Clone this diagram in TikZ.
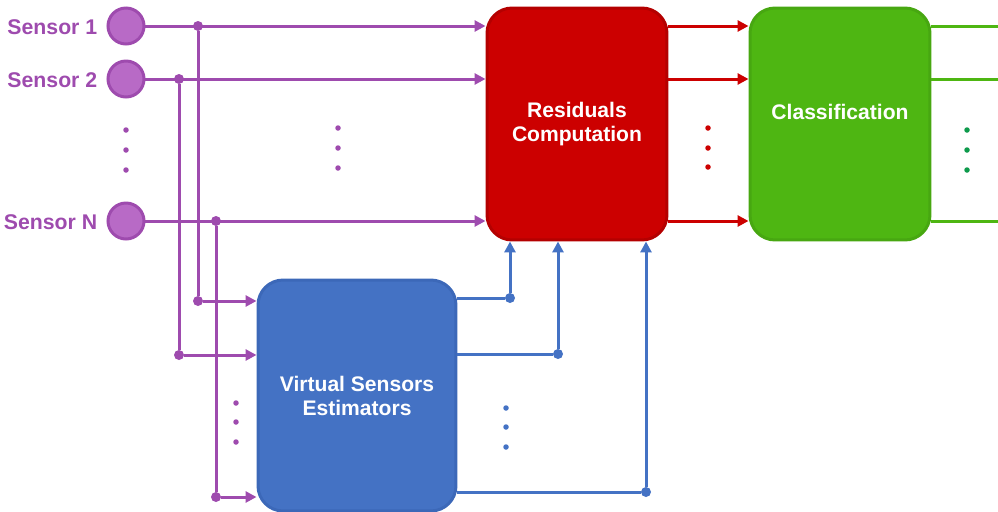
\documentclass[tikz,border=0pt]{standalone}
\usepackage{fontspec}
\setmainfont{Liberation Sans}
\usetikzlibrary{positioning,arrows.meta}

\definecolor{sensorline}{HTML}{9E4BAE}
\definecolor{sensorfill}{HTML}{B86AC6}
\definecolor{resfill}{HTML}{CC0000}
\definecolor{resline}{HTML}{B40000}
\definecolor{clsfill}{HTML}{4EB612}
\definecolor{clsline}{HTML}{47A711}
\definecolor{clsdot}{HTML}{0E9A4C}
\definecolor{vsefill}{HTML}{4472C4}
\definecolor{vseline}{HTML}{3C68B8}

\begin{document}
\begin{tikzpicture}[x=0.02cm, y=-0.02cm, line width=0.06cm,
    sensor/.style={draw=sensorline, fill=sensorfill, circle, minimum size=0.72cm, inner sep=0pt},
    sensorlbl/.style={text=sensorline, inner sep=1pt, font=\bfseries\fontsize{12.1}{13.7}\selectfont},
    block/.style={draw, rounded corners=0.5cm, text=white, align=center, font=\bfseries\fontsize{12}{13.7}\selectfont},
    junct/.style={circle, fill, inner sep=0pt, outer sep=0pt, minimum size=0.2cm},
    ellip/.style={circle, fill, inner sep=0pt, minimum size=0.11cm},
    arr/.style={-{Triangle[length=0.22cm, width=0.22cm]}}]
  \useasboundingbox (0,0) rectangle (998,511);

  % sensors
  \node (s1) [sensor] at (126,26) {};
  \node (s2) [sensor] at (126,79) {};
  \node (sN) [sensor] at (126,221) {};
  \node (s1lbl) [sensorlbl, left=0.12cm of s1, yshift=-0.03cm] {Sensor 1};
  \node (s2lbl) [sensorlbl, left=0.12cm of s2, yshift=-0.03cm] {Sensor 2};
  \node (sNlbl) [sensorlbl, left=0.12cm of sN, yshift=-0.03cm] {Sensor N};

  % blocks
  \node (res) [block, draw=resline, fill=resfill, minimum width=3.6cm, minimum height=4.64cm] at (577,124) {Residuals\\Computation};
  \node (cls) [block, draw=clsline, fill=clsfill, minimum width=3.6cm, minimum height=4.64cm] at (840,124) {Classification\\~};
  \node (vse) [block, draw=vseline, fill=vsefill, minimum width=3.96cm, minimum height=4.62cm] at (357,395.5) {Virtual Sensors\\Estimators};

  % junctions
  \node (j1) [junct, sensorline] at (198,26) {};
  \node (j2) [junct, sensorline] at (179,79) {};
  \node (jN) [junct, sensorline] at (216,221) {};
  \node (k1) [junct, sensorline] at (198,301) {};
  \node (k2) [junct, sensorline] at (179,355) {};
  \node (kN) [junct, sensorline] at (216,497) {};
  \node (b1) [junct, vsefill] at (510,298) {};
  \node (b2) [junct, vsefill] at (558,354) {};
  \node (b3) [junct, vsefill] at (646,492) {};
  \coordinate (out1) at (998,26);
  \coordinate (out2) at (998,79);
  \coordinate (outN) at (998,221);

  % sensor lines
  \draw [arr, sensorline] (s1) -- (s1 -| res.west);
  \draw [arr, sensorline] (s2) -- (s2 -| res.west);
  \draw [arr, sensorline] (sN) -- (sN -| res.west);
  \draw [sensorline] (j1) -- (k1);
  \draw [sensorline] (j2) -- (k2);
  \draw [sensorline] (jN) -- (kN);
  \draw [arr, sensorline] (k1) -- (k1 -| vse.west);
  \draw [arr, sensorline] (k2) -- (k2 -| vse.west);
  \draw [arr, sensorline] (kN) -- (kN -| vse.west);

  % estimator outputs
  \draw [vsefill] (b1 -| vse.east) -- (b1);
  \draw [vsefill] (b2 -| vse.east) -- (b2);
  \draw [vsefill] (b3 -| vse.east) -- (b3);
  \draw [arr, vsefill] (b1) -- (b1 |- res.south);
  \draw [arr, vsefill] (b2) -- (b2 |- res.south);
  \draw [arr, vsefill] (b3) -- (b3 |- res.south);

  % residuals and outputs
  \draw [arr, resfill] (s1 -| res.east) -- (s1 -| cls.west);
  \draw [arr, resfill] (s2 -| res.east) -- (s2 -| cls.west);
  \draw [arr, resfill] (sN -| res.east) -- (sN -| cls.west);
  \draw [clsfill] (out1 -| cls.east) -- (out1);
  \draw [clsfill] (out2 -| cls.east) -- (out2);
  \draw [clsfill] (outN -| cls.east) -- (outN);

  % dots
  \foreach \y in {130,150,170} \node (ps\y) [ellip, sensorline] at (126,\y) {};
  \foreach \y in {128,148,168} \node (pm\y) [ellip, sensorline] at (338,\y) {};
  \foreach \y in {403,422,442} \node (pv\y) [ellip, sensorline] at (236,\y) {};
  \foreach \y in {408,427,447} \node (bv\y) [ellip, vsefill] at (506,\y) {};
  \foreach \y in {128,148,167} \node (rd\y) [ellip, resfill] at (708,\y) {};
  \foreach \y in {130,150,170} \node (gd\y) [ellip, clsdot] at (967,\y) {};
\end{tikzpicture}
\end{document}
